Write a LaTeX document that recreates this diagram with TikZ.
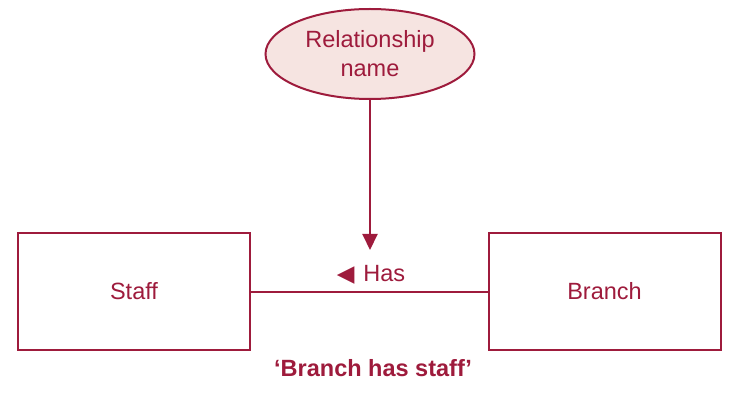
\documentclass[tikz,border=0pt]{standalone}
\usepackage{fontspec}
\setmainfont{Liberation Sans}
\newfontfamily\symfont{DejaVu Sans}
\usetikzlibrary{shapes.geometric,arrows.meta}
\definecolor{erred}{HTML}{9E1B3C}
\definecolor{erpink}{HTML}{F6E4E1}
\tikzset{
  px/.style={x=1pt,y=-1pt},
  entity/.style={draw=erred,line width=2pt,minimum width=232pt,minimum height=117pt,inner sep=0pt,text=erred,font=\fontsize{23.5}{28}\selectfont},
  relname/.style={ellipse,draw=erred,fill=erpink,line width=2pt,minimum width=209pt,minimum height=90pt,inner sep=0pt,text=erred,align=center,font=\fontsize{23.5}{29}\selectfont},
  link/.style={draw=erred,line width=2pt},
  lbl/.style={text=erred,inner sep=0pt,font=\fontsize{23.5}{28}\selectfont}
}
\begin{document}
\begin{tikzpicture}[px]
\useasboundingbox (0,0) rectangle (733,403);
\node[entity] (staff) at (134,291.5) {Staff};
\node[entity] (branch) at (604.5,291.5) {Branch};
\node[relname] (rel) at (370,54) {Relationship\\name};
\coordinate (tip) at (370,250);
\draw[link] (staff.east) -- (branch.west);
\draw[link,-{Triangle[length=16pt,width=15pt]}] (rel.south) -- (tip);
\node[lbl,anchor=base] (has) at (371,281) {{\symfont\fontsize{23}{23}\selectfont ◀}\hspace{9pt}Has};
\node[text=erred,inner sep=0pt,anchor=base,font=\fontsize{23.5}{28}\selectfont\bfseries] (caption) at (373,376) {‘Branch has staff’};
\end{tikzpicture}
\end{document}
